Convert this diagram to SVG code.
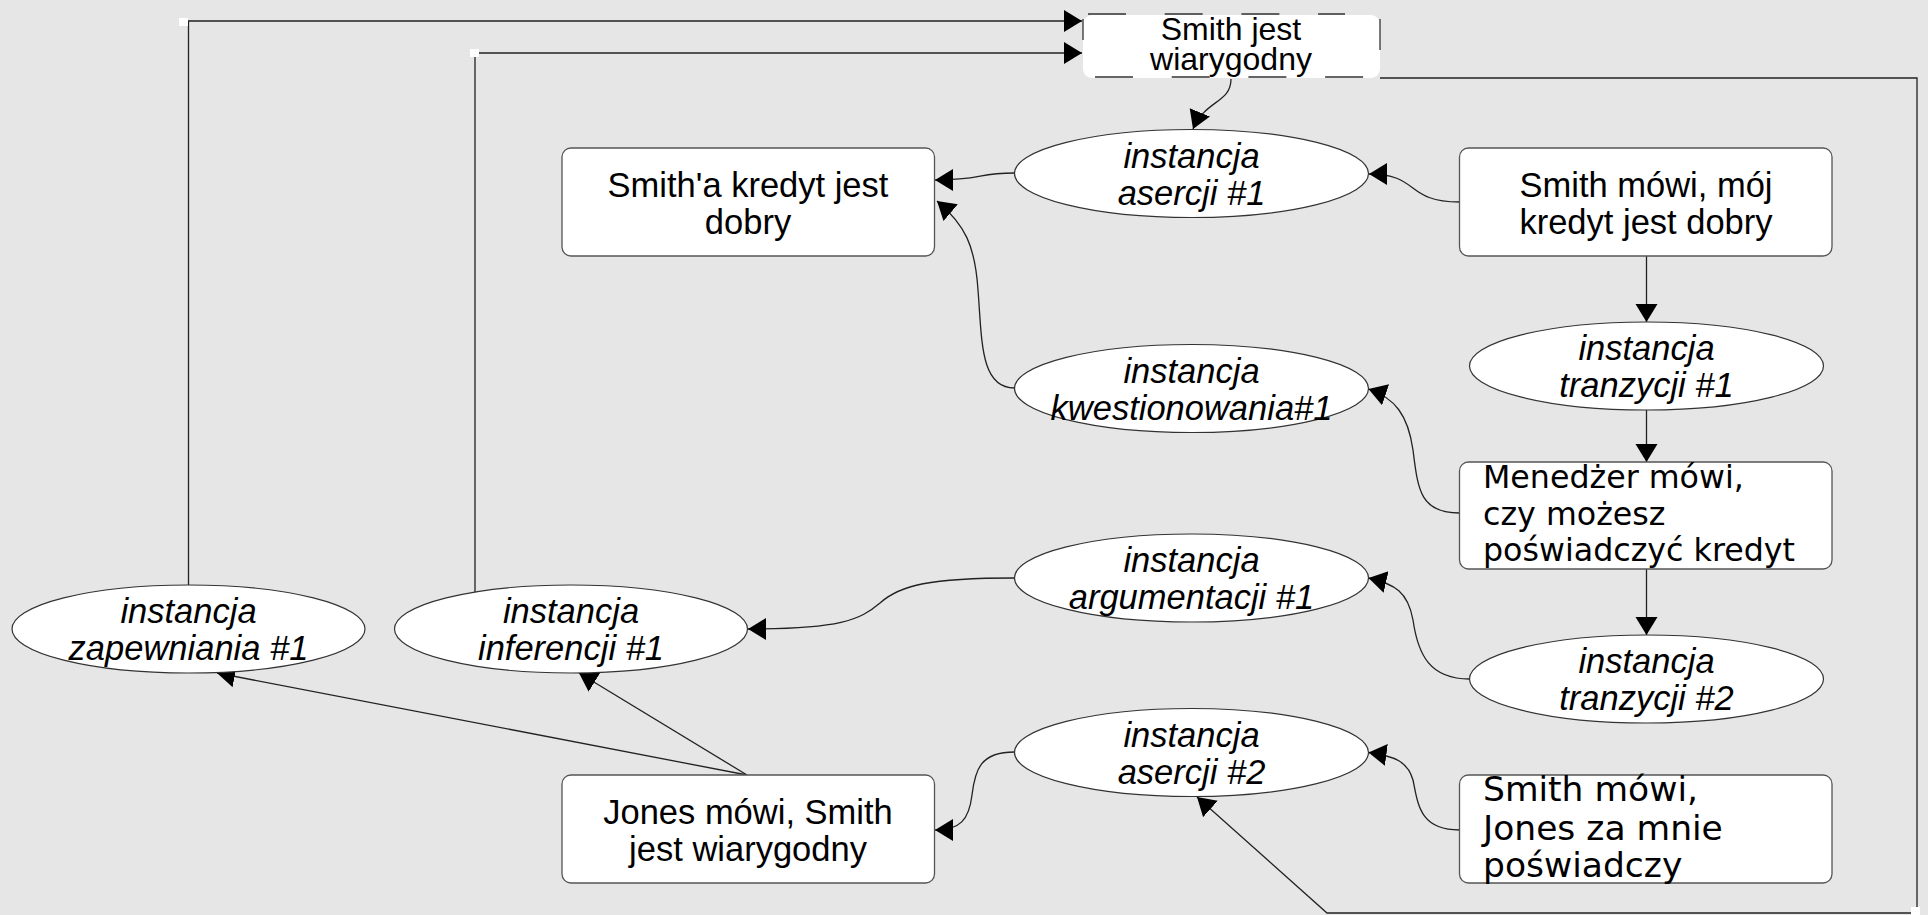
<svg xmlns="http://www.w3.org/2000/svg" width="1928" height="915" viewBox="0 0 1928 915">
<style>
.bg{fill:#e6e6e6}
.box{fill:#fff;stroke:#555;stroke-width:1.3}
.ell{fill:#fff;stroke:#333;stroke-width:1.2}
.c{fill:none;stroke:#222;stroke-width:1.3}
.t{font-family:"Liberation Sans",Arial,sans-serif;font-size:34.5px;fill:#000;text-anchor:middle}
.ti{font-family:"Liberation Sans",Arial,sans-serif;font-size:34.5px;font-style:italic;fill:#000;text-anchor:middle}
.td{font-family:"DejaVu Sans",sans-serif;fill:#000}
.dash{fill:none;stroke:#333;stroke-width:1.3;stroke-dasharray:38 38.7}
.sq{fill:#fff}
</style>
<defs>
<marker id="ah" markerUnits="userSpaceOnUse" markerWidth="20" markerHeight="24" viewBox="0 0 20 24" refX="18" refY="11" orient="auto">
<path d="M0,0 L18,11 L0,22 z" fill="#000"/>
</marker>
</defs>
<rect class="bg" x="0" y="0" width="1928" height="915"/>

<g id="connectors">
<path class="c" d="M188.5,585 L188.5,21 L1082,21" marker-end="url(#ah)"/>
<path class="c" d="M475,592 L475,53 L1082,53" marker-end="url(#ah)"/>
<path class="c" d="M1231,79 C1231,103 1205,100 1193,129" marker-end="url(#ah)"/>
<path class="c" d="M1459.5,202 C1405,202 1420,174 1369,174" marker-end="url(#ah)"/>
<path class="c" d="M1014.5,173 C975,173 985,180 935,180" marker-end="url(#ah)"/>
<path class="c" d="M1014.5,388 C980,388 982,340 978,290 C975,245 965,225 937,201" marker-end="url(#ah)"/>
<path class="c" d="M1646.5,256 L1646.5,322" marker-end="url(#ah)"/>
<path class="c" d="M1646.5,410 L1646.5,462" marker-end="url(#ah)"/>
<path class="c" d="M1459.5,513 C1420,513 1418,490 1413,450 C1408,415 1395,398 1368.5,389" marker-end="url(#ah)"/>
<path class="c" d="M1646.5,569 L1646.5,635" marker-end="url(#ah)"/>
<path class="c" d="M1469.5,679 C1430,679 1418,655 1413,620 C1408,592 1395,584 1368.5,578" marker-end="url(#ah)"/>
<path class="c" d="M1014.5,578 C930,578 900,585 880,603 C860,620 840,629 748,629" marker-end="url(#ah)"/>
<path class="c" d="M1014.5,752 C980,752 975,770 972,795 C969,820 960,830 935,830" marker-end="url(#ah)"/>
<path class="c" d="M1459.5,830 C1420,830 1418,805 1413,780 C1408,762 1395,756 1368.5,752.5" marker-end="url(#ah)"/>
<path class="c" d="M1380,78 L1917,78 L1917,913 L1327,913 L1197,797" marker-end="url(#ah)"/>
<path class="c" d="M747,775 L217,673" marker-end="url(#ah)"/>
<path class="c" d="M747,775 L579,673" marker-end="url(#ah)"/>
<rect class="sq" x="179" y="18" width="9" height="8"/>
<rect class="sq" x="470" y="49" width="9" height="8"/>
<rect class="sq" x="1911" y="907" width="9" height="8"/>
</g>

<g id="n_smith_wiarygodny">
<rect x="1083" y="15" width="297" height="63" rx="9" fill="#fff"/>
<line class="dash" x1="1088" y1="14" x2="1345" y2="14"/>
<line class="dash" x1="1095" y1="77" x2="1380" y2="77"/>
<line x1="1083" y1="19" x2="1083" y2="40" stroke="#333" stroke-width="1.3"/>
<line x1="1380" y1="19" x2="1380" y2="50" stroke="#333" stroke-width="1.3"/>
<text class="t" style="font-size:32px" x="1231" y="40">Smith jest</text>
<text class="t" style="font-size:32px" x="1231" y="70">wiarygodny</text>
</g>

<g id="n_asercja1">
<ellipse class="ell" cx="1191.5" cy="173.5" rx="177" ry="44"/>
<text class="ti" x="1191.5" y="167.5">instancja</text>
<text class="ti" x="1191.5" y="204.5">asercji #1</text>
</g>

<g id="n_kredyt">
<rect class="box" x="562" y="148" width="372.5" height="108" rx="9"/>
<text class="t" x="748" y="197">Smith'a kredyt jest</text>
<text class="t" x="748" y="234">dobry</text>
</g>

<g id="n_smith_mowi">
<rect class="box" x="1459.5" y="148" width="372.5" height="108" rx="9"/>
<text class="t" x="1646" y="197">Smith mówi, mój</text>
<text class="t" x="1646" y="234">kredyt jest dobry</text>
</g>

<g id="n_tranzycja1">
<ellipse class="ell" cx="1646.5" cy="366" rx="177" ry="44"/>
<text class="ti" x="1646.5" y="360">instancja</text>
<text class="ti" x="1646.5" y="397">tranzycji #1</text>
</g>

<g id="n_kwestionowanie">
<ellipse class="ell" cx="1191.5" cy="388.5" rx="177" ry="44"/>
<text class="ti" x="1191.5" y="382.5">instancja</text>
<text class="ti" x="1191.5" y="419.5">kwestionowania#1</text>
</g>

<g id="n_menedzer">
<rect class="box" x="1459.5" y="462" width="372.5" height="107" rx="9"/>
<text class="td" style="font-size:31.7px" x="1483" y="488">Menedżer mówi,</text>
<text class="td" style="font-size:31.7px" x="1483" y="524.5">czy możesz</text>
<text class="td" style="font-size:31.7px" x="1483" y="561">poświadczyć kredyt</text>
</g>

<g id="n_argumentacja">
<ellipse class="ell" cx="1191.5" cy="578" rx="177" ry="44"/>
<text class="ti" x="1191.5" y="572">instancja</text>
<text class="ti" x="1191.5" y="609">argumentacji #1</text>
</g>

<g id="n_tranzycja2">
<ellipse class="ell" cx="1646.5" cy="679" rx="177" ry="44"/>
<text class="ti" x="1646.5" y="673">instancja</text>
<text class="ti" x="1646.5" y="710">tranzycji #2</text>
</g>

<g id="n_asercja2">
<ellipse class="ell" cx="1191.5" cy="752.5" rx="177" ry="44"/>
<text class="ti" x="1191.5" y="746.5">instancja</text>
<text class="ti" x="1191.5" y="783.5">asercji #2</text>
</g>

<g id="n_smith_jones">
<rect class="box" x="1459.5" y="775" width="372.5" height="108" rx="9"/>
<text class="td" style="font-size:34.5px" x="1483" y="800.5">Smith mówi,</text>
<text class="td" style="font-size:34.5px" x="1483" y="840">Jones za mnie</text>
<text class="td" style="font-size:34.5px" x="1483" y="877">poświadczy</text>
</g>

<g id="n_jones">
<rect class="box" x="562" y="775" width="372.5" height="108" rx="9"/>
<text class="t" x="748" y="824">Jones mówi, Smith</text>
<text class="t" x="748" y="861">jest wiarygodny</text>
</g>

<g id="n_zapewnianie">
<ellipse class="ell" cx="188.5" cy="629" rx="176.5" ry="44"/>
<text class="ti" x="188.5" y="623">instancja</text>
<text class="ti" x="188.5" y="660">zapewniania #1</text>
</g>

<g id="n_inferencja">
<ellipse class="ell" cx="571" cy="629" rx="176.5" ry="44"/>
<text class="ti" x="571" y="623">instancja</text>
<text class="ti" x="571" y="660">inferencji #1</text>
</g>
</svg>
